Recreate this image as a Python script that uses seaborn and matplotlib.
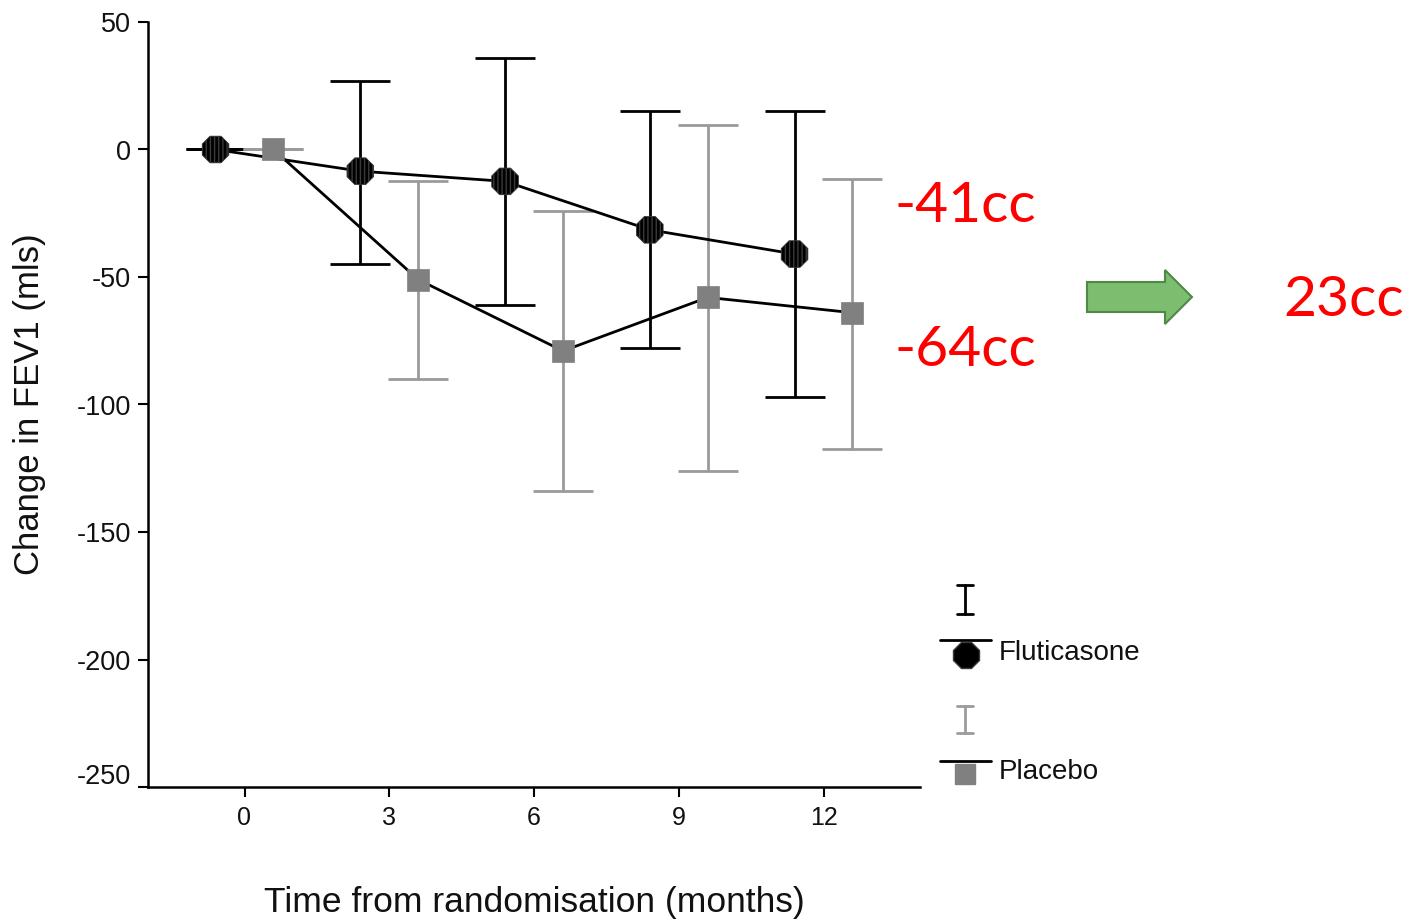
import numpy as np
import pandas as pd
import matplotlib
matplotlib.use("Agg")
import matplotlib.pyplot as plt
import matplotlib.transforms as mtransforms
import seaborn as sns
from matplotlib.lines import Line2D
from matplotlib.patches import FancyArrow

# ---------------- data ----------------
months = [0, 3, 6, 9, 12]
flut_mean = [0, -8.5, -12.5, -31.5, -41]
flut_upper = [0, 27, 36, 15, 15]
flut_lower = [0, -45, -61, -78, -97]
plac_mean = [0, -51, -79, -58, -64]
plac_upper = [0, -12.5, -24, 9.5, -11.5]
plac_lower = [0, -90, -134, -126, -117.5]
groups = ["Fluticasone", "Placebo"]
x_ticks = [0, 3, 6, 9, 12]
y_ticks = [50, 0, -50, -100, -150, -200, -250]
ann_flut = "-41cc"
ann_plac = "-64cc"
ann_diff = "23cc"

# ---------------- style ----------------
sns.set_theme(style="ticks")
plt.rcParams["font.family"] = ["Liberation Sans", "DejaVu Sans"]
plt.rcParams["axes.unicode_minus"] = False

W, H = 1407, 922
fig = plt.figure(figsize=(W / 100, H / 100), dpi=100)
ax = fig.add_axes([148 / W, 1 - 787 / H, (920 - 148) / W, (787 - 22) / H])

dodge = {"Fluticasone": -0.6, "Placebo": 0.6}
df = pd.concat([
    pd.DataFrame({"group": "Fluticasone", "month": months, "mean": flut_mean,
                  "upper": flut_upper, "lower": flut_lower}),
    pd.DataFrame({"group": "Placebo", "month": months, "mean": plac_mean,
                  "upper": plac_upper, "lower": plac_lower}),
], ignore_index=True)
df["xpos"] = df["month"] + df["group"].map(dodge)

BLACK = "#000000"
GREY_BAR = "#9a9a9a"
GREY_MK = "#808080"
err_col = {"Fluticasone": BLACK, "Placebo": GREY_BAR}

# error bars
for g in groups:
    d = df[df["group"] == g]
    ax.errorbar(d["xpos"], d["mean"],
                yerr=[d["mean"] - d["lower"], d["upper"] - d["mean"]],
                fmt="none", ecolor=err_col[g], elinewidth=2.0,
                capsize=21.5, capthick=2.0, zorder=2)

# connecting lines (both black)
sns.lineplot(data=df, x="xpos", y="mean", hue="group",
             palette={"Fluticasone": BLACK, "Placebo": BLACK},
             linewidth=2.0, legend=False, ax=ax, zorder=3, sort=False)

# markers
df_f = df[df["group"] == "Fluticasone"]
df_p = df[df["group"] == "Placebo"]
ax.scatter(df_f["xpos"], df_f["mean"], marker="8", s=430, facecolor=BLACK,
           edgecolor="#3a3a3a", hatch="||||", linewidth=0.6, zorder=4)
ax.scatter(df_p["xpos"], df_p["mean"], marker="s", s=260, facecolor=GREY_MK,
           edgecolor=GREY_MK, linewidth=0.5, zorder=4)

# axes
ax.set_xlim(-2, 14)
ax.set_ylim(-250, 50)
ax.set_xticks(x_ticks)
ax.set_yticks(y_ticks)
ax.tick_params(axis="both", width=1.5, length=7, color="black",
               labelcolor="#111111")
ax.tick_params(axis="x", labelsize=18, pad=7)
ax.tick_params(axis="y", labelsize=19.5, pad=5)
sns.despine(ax=ax)
for s in ["left", "bottom"]:
    ax.spines[s].set_linewidth(1.8)
    ax.spines[s].set_color("black")
ax.set_xlabel("Time from randomisation (months)", fontsize=25.5, labelpad=40,
              color="#111111")
ax.set_ylabel("Change in FEV1 (mls)", fontsize=25, labelpad=22,
              color="#111111")
ax.patch.set_alpha(0)

# the bottom y label sits slightly above its tick in the reference
fig.canvas.draw()
lowest = ax.get_yticklabels()[-1]
lowest.set_transform(lowest.get_transform() +
                     mtransforms.ScaledTranslation(0, 13 / 100, fig.dpi_scale_trans))


# ---------------- legend (custom layout) ----------------
def fx(px):
    return px / W


def fy(py):
    return 1 - py / H


def draw_ibar(xc, y0, y1, color):
    fig.add_artist(Line2D([fx(xc), fx(xc)], [fy(y0), fy(y1)], color=color, lw=2))
    for yy in (y0, y1):
        fig.add_artist(Line2D([fx(xc - 8), fx(xc + 8)], [fy(yy), fy(yy)],
                              color=color, lw=2))


draw_ibar(965, 585, 614, BLACK)
fig.add_artist(Line2D([fx(940), fx(991)], [fy(640), fy(640)], color=BLACK, lw=2))
fig.add_artist(Line2D([fx(966)], [fy(655)], marker="8", markersize=20,
                      color=BLACK, markeredgecolor="#3a3a3a"))
fig.text(fx(999), fy(653), groups[0], fontsize=20, va="center", ha="left",
         color="#111111")

draw_ibar(965, 706, 733, GREY_BAR)
fig.add_artist(Line2D([fx(940), fx(991)], [fy(761), fy(761)], color=BLACK, lw=2))
fig.add_artist(Line2D([fx(965)], [fy(774)], marker="s", markersize=15,
                      color=GREY_MK, markeredgecolor=GREY_MK))
fig.text(fx(999), fy(772), groups[1], fontsize=20, va="center", ha="left",
         color="#111111")

# ---------------- annotations ----------------
RED = "#ff0000"
fig.text(fx(895), fy(207), ann_flut, fontsize=41, color=RED, family="Lato",
         va="center", ha="left")
fig.text(fx(895), fy(350), ann_plac, fontsize=41, color=RED, family="Lato",
         va="center", ha="left")
fig.text(fx(1283), fy(300), ann_diff, fontsize=41, color=RED, family="Lato",
         va="center", ha="left")

arrow = FancyArrow(fx(1087), fy(297), fx(1192) - fx(1087), 0,
                   width=30 / H, head_width=54 / H,
                   head_length=(1192 - 1165) / W,
                   length_includes_head=True, transform=fig.transFigure,
                   facecolor="#7cbd6f", edgecolor="#4e8a45", linewidth=1.5)
fig.add_artist(arrow)

fig.savefig("out.png", dpi=100, facecolor="white")
